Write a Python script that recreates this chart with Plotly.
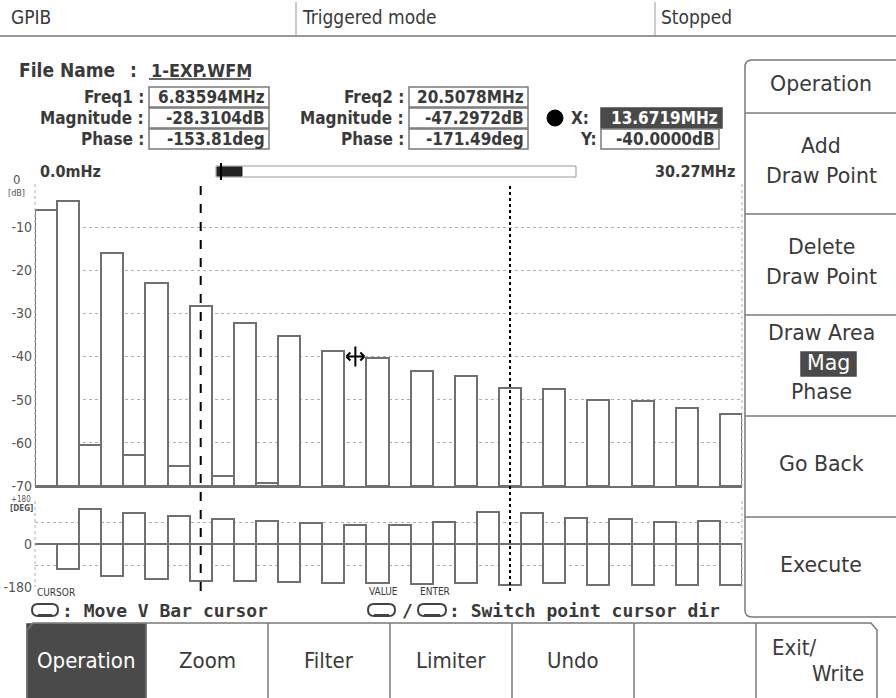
import plotly.graph_objects as go

W, H = 896, 698

# ------------------------------------------------------------------ data
BIN_MHZ = 0.9765625
bin_numbers = list(range(32))
magnitude_db = [-6.0, -3.9, -60.4, -15.9, -62.7, -23.0, -65.4, -28.31,
                -67.7, -32.3, -69.4, -35.3, None, -38.6, None, -40.3,
                None, -43.3, None, -44.4, None, -47.30, None, -47.4,
                None, -50.0, None, -50.3, None, -52.0, None, -53.4]
phase_deg = [0, -103, 147, -135, 129, -148, 118, -153.81,
             105, -155, 98, -158, 88, -164, 80, -164,
             80, -168, 91, -164, 134, -171.49, 128, -165,
             108, -171, 103, -171, 91, -171, 98, -171]
MAG_FLOOR = -70
mag_tickvals = [0, -10, -20, -30, -40, -50, -60, -70]
mag_ticktext = ["", "-10", "-20", "-30", "-40", "-50", "-60", "-70"]
phase_tickvals = [180, 0, -180]
phase_ticktext = ["", "0", "-180"]
phase_minor_grid = [90, -90]

freq1_mhz, freq2_mhz = 6.83594, 20.5078
cursor_x_mhz, cursor_y_db = 13.6719, -40.0

header_items = ["GPIB", "Triggered mode", "Stopped"]
file_name = "1-EXP.WFM"
freq1_text, mag1_text, phase1_text = "6.83594MHz", "-28.3104dB", "-153.81deg"
freq2_text, mag2_text, phase2_text = "20.5078MHz", "-47.2972dB", "-171.49deg"
x_text, y_text = "13.6719MHz", "-40.0000dB"
span_start, span_end = "0.0mHz", "30.27MHz"
menu_items = [["Operation"], ["Add", "Draw Point"], ["Delete", "Draw Point"],
              ["Draw Area", "Mag", "Phase"], ["Go Back"], ["Execute"]]
tab_items = ["Operation", "Zoom", "Filter", "Limiter", "Undo", ""]

# ------------------------------------------------------------------ helpers
COND = "DejaVu Sans Condensed, Liberation Sans Narrow, DejaVu Sans, sans-serif"
SANS = "DejaVu Sans, Verdana, sans-serif"
MONO = "DejaVu Sans Mono, Liberation Mono, monospace"
INK = "#3a3a3a"
GRAY = "#7a7a7a"
DARK = "#4a4a4a"


def px(x):
    return x / W


def py(y):
    return 1 - y / H


annotations = []
shapes = []


def text(x, y, s, size=18, anchor="left", family=COND, color=INK, weight="normal", vanchor="middle"):
    annotations.append(dict(x=px(x), y=py(y), xref="paper", yref="paper", text=s,
                            showarrow=False, xanchor=anchor, yanchor=vanchor,
                            font=dict(family=family, size=size, color=color, weight=weight)))


def line(x0, y0, x1, y1, color=GRAY, width=2, dash="solid"):
    shapes.append(dict(type="line", xref="paper", yref="paper", x0=px(x0), y0=py(y0),
                       x1=px(x1), y1=py(y1), line=dict(color=color, width=width, dash=dash)))


def rect(x0, y0, x1, y1, color=GRAY, width=1.5, fill="rgba(0,0,0,0)"):
    shapes.append(dict(type="rect", xref="paper", yref="paper", x0=px(x0), y0=py(y1),
                       x1=px(x1), y1=py(y0), line=dict(color=color, width=width), fillcolor=fill))


def path(points_cmd, color=GRAY, width=2, fill=None):
    shapes.append(dict(type="path", xref="paper", yref="paper", path=points_cmd,
                       line=dict(color=color, width=width),
                       fillcolor=fill if fill else "rgba(0,0,0,0)"))


def P(x, y):
    return f"{px(x):.5f},{py(y):.5f}"


def oval(x0, x1, y0, y1):
    ym = (y0 + y1) / 2
    r = (y1 - y0) / 2
    d = (f"M{P(x0 + r, y0)} L{P(x1 - r, y0)} Q{P(x1, y0)} {P(x1, ym)} "
         f"Q{P(x1, y1)} {P(x1 - r, y1)} L{P(x0 + r, y1)} Q{P(x0, y1)} {P(x0, ym)} "
         f"Q{P(x0, y0)} {P(x0 + r, y0)} Z")
    path(d, color="#444", width=2)
    line(x0 + r, y1 - 1, x1 - r, y1 - 1, color="#444", width=2)


# ------------------------------------------------------------------ traces
freq_mhz = [b * BIN_MHZ for b in bin_numbers]
mag_len = [None if m is None else m - MAG_FLOOR for m in magnitude_db]

fig = go.Figure()
fig.add_trace(go.Bar(x=freq_mhz, y=mag_len, base=MAG_FLOOR, width=BIN_MHZ,
                     marker=dict(color="white", line=dict(color="#707070", width=2)),
                     xaxis="x", yaxis="y", showlegend=False, hoverinfo="skip"))
fig.add_trace(go.Bar(x=freq_mhz, y=phase_deg, width=BIN_MHZ,
                     marker=dict(color="white", line=dict(color="#707070", width=2)),
                     xaxis="x2", yaxis="y2", showlegend=False, hoverinfo="skip"))

X0, X1 = 35, 742
MAG_TOP, MAG_BOT = 184, 486
PH_TOP, PH_BOT = 501, 587
xr = [-0.5 * BIN_MHZ, 31.5 * BIN_MHZ]

tickfont = dict(family=COND, size=14, color="#555")
fig.update_layout(
    template="none",
    width=W, height=H, margin=dict(l=0, r=0, t=0, b=0, pad=0, autoexpand=False),
    paper_bgcolor="white", plot_bgcolor="white", bargap=0, barmode="overlay",
    showlegend=False,
    xaxis=dict(domain=[px(X0), px(X1)], range=xr, showticklabels=False, showgrid=False,
               zeroline=False, showline=True, linecolor="#707070", linewidth=2, ticks="",
               anchor="y", fixedrange=True, automargin=False),
    yaxis=dict(domain=[py(MAG_BOT), py(MAG_TOP)], range=[MAG_FLOOR, 0], tickvals=mag_tickvals,
               ticktext=mag_ticktext, tickfont=tickfont, showgrid=True, gridcolor="#b0b0b0",
               griddash="dot", gridwidth=1, zeroline=False, showline=False, ticks="",
               ticklabelstandoff=2, anchor="x", fixedrange=True, automargin=False),
    xaxis2=dict(domain=[px(X0), px(X1)], range=xr, showticklabels=False, showgrid=False,
                zeroline=False, showline=False, ticks="", anchor="y2", fixedrange=True,
                automargin=False),
    yaxis2=dict(domain=[py(PH_BOT), py(PH_TOP)], range=[-180, 180], tickvals=phase_tickvals,
                ticktext=phase_ticktext, tickfont=tickfont, showgrid=True, gridcolor="#b0b0b0",
                griddash="dot", gridwidth=1, zeroline=True, zerolinecolor="#707070",
                zerolinewidth=2, showline=False, ticks="", ticklabelstandoff=2, anchor="x2",
                fixedrange=True, automargin=False,
                minor=dict(tickvals=phase_minor_grid, showgrid=True, gridcolor="#b0b0b0",
                           griddash="dot", gridwidth=1, ticks="")),
)

# axis unit labels
text(16, 180, "0", size=13, anchor="center", color="#555")
text(16, 193, "[dB]", size=9, anchor="center", color="#555")
text(21, 499, "+180", size=8, anchor="center", color="#555")
text(21, 508, "[DEG]", size=8, anchor="center", color="#555", weight="bold")

# plot frame (dotted sides)
for xx in (X0, X1):
    line(xx, MAG_TOP, xx, MAG_BOT, color="#b0b0b0", width=1, dash="dot")
    line(xx, PH_TOP, xx, PH_BOT, color="#b0b0b0", width=1, dash="dot")

# cursors (data x)
for fx, dsh in ((freq1_mhz, "dash"), (freq2_mhz, "dot")):
    shapes.append(dict(type="line", xref="x", yref="paper", x0=fx, x1=fx,
                       y0=py(186), y1=py(591), line=dict(color="black", width=2, dash=dsh),
                       layer="above"))

# point cursor glyph at (X, Y)
cross = "M0,-10 L0,10 M-9,0 L9,0 M-9,0 L-5,4 M-9,0 L-5,-4 M9,0 L5,4 M9,0 L5,-4"
shapes.append(dict(type="path", xref="x", yref="y", xsizemode="pixel", ysizemode="pixel",
                   xanchor=cursor_x_mhz, yanchor=cursor_y_db, path=cross,
                   line=dict(color="black", width=2), layer="above"))

# ------------------------------------------------------------------ header
text(9, 17, header_items[0], size=19)
text(300, 17, header_items[1], size=19)
text(659, 17, header_items[2], size=19)
line(296, 2, 296, 35, color="#999", width=1)
line(655, 2, 655, 35, color="#999", width=1)
line(0, 36, W, 36, color="#999", width=2)

# ------------------------------------------------------------------ info area
B = "bold"
text(17, 70, "File Name", size=19, weight=B)
text(128, 70, ":", size=19, weight=B)
text(149, 70, file_name, size=18, weight=B)
line(149, 79, 250, 79, color=INK, width=1.5)

rows = [(97, "Freq1 :", freq1_text, "Freq2 :", freq2_text),
        (118, "Magnitude :", mag1_text, "Magnitude :", mag2_text),
        (139, "Phase :", phase1_text, "Phase :", phase2_text)]
for yy, l1, v1, l2, v2 in rows:
    text(146, yy, l1, size=17, anchor="right", weight=B)
    rect(149, yy - 10, 269, yy + 10)
    text(267, yy, v1, size=17, anchor="right", weight=B)
    text(406, yy, l2, size=17, anchor="right", weight=B)
    rect(409, yy - 10, 528, yy + 10)
    text(526, yy, v2, size=17, anchor="right", weight=B)

shapes.append(dict(type="circle", xref="paper", yref="paper", x0=px(547), x1=px(563),
                   y0=py(126), y1=py(110), fillcolor="black", line=dict(color="black", width=1)))
text(569, 118, "X:", size=17, weight=B)
rect(601, 108, 722, 128, color=DARK, fill=DARK)
text(720, 118, x_text, size=17, anchor="right", color="white", weight=B)
text(578, 139, "Y:", size=17, weight=B)
rect(601, 129, 719, 149)
text(717, 139, y_text, size=17, anchor="right", weight=B)

# span slider
text(38, 171, span_start, size=16, weight=B)
text(737, 171, span_end, size=16, anchor="right", weight=B)
rect(216, 166, 576, 177, color="#999", width=1)
rect(217, 167, 242, 176, color="#222", width=1, fill="#222")
line(221, 163, 221, 180, color="black", width=2)

# ------------------------------------------------------------------ hints
text(35, 592, "CURSOR", size=10)
oval(32, 58, 604, 616)
text(60, 610, ": Move V Bar cursor", size=18, family=MONO, weight=B)
text(367, 591, "VALUE", size=10)
oval(368, 395, 604, 616)
text(400, 610, "/", size=18, family=MONO, weight=B)
text(418, 591, "ENTER", size=10)
oval(418, 446, 604, 616)
text(447, 610, ": Switch point cursor dir", size=18, family=MONO, weight=B)

# ------------------------------------------------------------------ right menu
path(f"M{P(900, 60)} L{P(752, 60)} Q{P(745, 60)} {P(745, 67)} L{P(745, 610)} "
     f"Q{P(745, 617)} {P(752, 617)} L{P(900, 617)}", color=GRAY, width=1.5)
for yy in (113, 214, 315, 416, 517):
    line(745, yy, W, yy, color=GRAY, width=1.5)
MX = 821
MS = 20.5
text(MX, 84, menu_items[0][0], size=MS, anchor="center", family=SANS)
text(MX, 146, menu_items[1][0], size=MS, anchor="center", family=SANS)
text(MX, 176, menu_items[1][1], size=MS, anchor="center", family=SANS)
text(MX, 247, menu_items[2][0], size=MS, anchor="center", family=SANS)
text(MX, 277, menu_items[2][1], size=MS, anchor="center", family=SANS)
text(MX, 333, menu_items[3][0], size=MS, anchor="center", family=SANS)
rect(801, 352, 856, 376, color=DARK, fill=DARK)
text(MX + 7, 363, menu_items[3][1], size=MS, anchor="center", family=SANS, color="white")
text(MX, 392, menu_items[3][2], size=MS, anchor="center", family=SANS)
text(MX, 464, menu_items[4][0], size=MS, anchor="center", family=SANS)
text(MX, 565, menu_items[5][0], size=MS, anchor="center", family=SANS)

# ------------------------------------------------------------------ bottom tabs
TY = 623
tab_edges = [27, 146, 268, 390, 512, 634, 756, 877]
rect(27, TY + 1, 146, 700, color=DARK, fill=DARK)
path(f"M{P(27, 700)} L{P(27, 630)} L{P(33, TY)} L{P(871, TY)} L{P(877, 630)} L{P(877, 700)}",
     color=GRAY, width=1.5)
for xe in tab_edges[1:-1]:
    line(xe, TY, xe, 700, color=GRAY, width=1.5)
for i, t in enumerate(tab_items):
    cx = (tab_edges[i] + tab_edges[i + 1]) / 2
    text(cx, 660, t, size=22, anchor="center", color="white" if i == 0 else INK)
text(770, 647, "Exit/", size=22)
text(866, 673, "Write", size=22, anchor="right")

fig.update_layout(shapes=shapes, annotations=annotations)
fig.write_html("out.html", include_plotlyjs=True, config={"displayModeBar": False},
               post_script="document.body.style.margin='0';document.body.style.overflow='hidden';")
